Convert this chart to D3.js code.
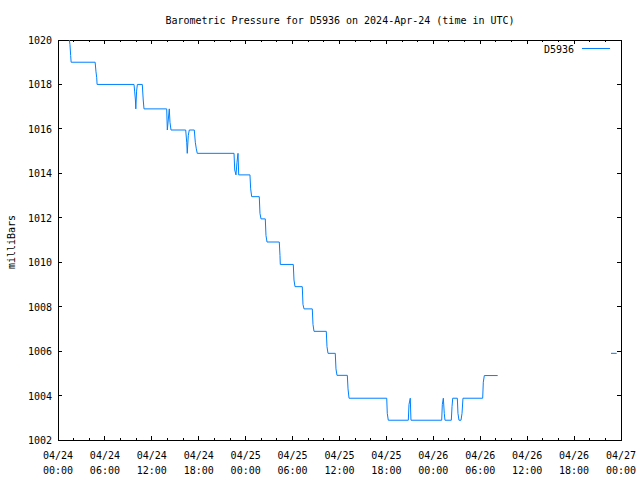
<!DOCTYPE html>
<html>
  <head>
    <meta charset="UTF-8" />
    <script src="https://d3js.org/d3.v7.min.js"></script>
    <style>
      body { margin: 0; background: #fff; }
      text { font-family: "DejaVu Sans Mono", monospace; font-size: 10px; fill: #000; }
    </style>
  </head>
  <body>
    <svg width="640" height="480"></svg>

    <script>
      // hours since 2024-04-24 00:00 UTC, null = gap in the record
      const hours = [
        1.45, 1.53, 1.62, 1.68, 4.75, 4.85, 4.95, 5.0,
        9.72, 9.8, 9.9, 9.95, 10.05, 10.15, 10.78, 10.9, 11.0,
        13.9, 13.98, 14.1, 14.23, 14.32, 14.45,
        16.33, 16.46, 16.53, 16.66, 16.79, 17.43, 17.56, 17.69, 17.81,
        22.51, 22.6, 22.76, 22.89, 23.02, 23.11,
        24.55, 24.64, 24.77, 25.74, 25.83, 25.96, 26.51, 26.6, 26.73,
        28.3, 28.39, 28.43, 30.09, 30.18, 30.31, 31.24, 31.33, 31.46,
        32.52, 32.61, 32.74, 34.31, 34.4, 34.53, 35.46, 35.55, 35.68,
        37.0, 37.09, 37.22, 42.04, 42.11, 42.24,
        44.8, 44.89, 45.05, 45.14,
        49.07, 49.15, 49.28, 49.4, 49.49, 50.3, 50.39, 50.48,
        51.07, 51.15, 51.28, 51.54, 51.67, 51.79,
        54.31, 54.39, 54.52, 56.23,
        null,
        70.72, 71.45
      ];
      const pressure = [
        1020.0, 1019.8, 1019.3, 1019.0, 1019.0, 1018.6, 1018.3, 1018.0,
        1018.0, 1017.7, 1017.3, 1016.9, 1017.7, 1018.0, 1018.0, 1017.3, 1016.9,
        1016.9, 1015.95, 1016.4, 1016.9, 1016.3, 1015.95,
        1015.95, 1015.4, 1014.9, 1015.7, 1015.95, 1015.95, 1015.4, 1015.1, 1014.9,
        1014.9, 1014.15, 1013.93, 1014.5, 1014.9, 1013.93,
        1013.93, 1013.3, 1012.95, 1012.95, 1012.2, 1011.95, 1011.95, 1011.2, 1010.91,
        1010.91, 1010.3, 1009.9, 1009.9, 1009.2, 1008.9, 1008.9, 1008.1, 1007.9,
        1007.9, 1007.2, 1006.89, 1006.89, 1006.2, 1005.9, 1005.9, 1005.2, 1004.91,
        1004.91, 1004.3, 1003.88, 1003.88, 1003.2, 1002.89,
        1002.89, 1003.6, 1003.88, 1002.89,
        1002.89, 1003.6, 1003.88, 1003.2, 1002.89, 1002.89, 1003.5, 1003.88,
        1003.88, 1003.2, 1002.89, 1002.89, 1003.2, 1003.88,
        1003.88, 1004.6, 1004.9, 1004.9,
        null,
        1005.9, 1005.9
      ];
      const yTicks = [1002, 1004, 1006, 1008, 1010, 1012, 1014, 1016, 1018, 1020];
      const title = "Barometric Pressure for D5936 on 2024-Apr-24 (time in UTC)";
      const station = "D5936";

      const t0 = Date.UTC(2024, 3, 24);
      const data = hours.map((h, i) => ({
        t: h == null ? null : new Date(t0 + h * 3600e3),
        v: pressure[i]
      }));

      const svg = d3.select("svg");
      const pLeft = 58, pRight = 621, pTop = 40, pBottom = 440;

      const x = d3.scaleUtc()
        .domain([new Date(t0), new Date(t0 + 72 * 3600e3)])
        .range([pLeft, pRight]);
      const y = d3.scaleLinear().domain([1002, 1020]).range([pBottom, pTop]);

      const end = new Date(+x.domain()[1] + 1);
      const majors = d3.utcHour.every(6).range(x.domain()[0], end);
      const minors = d3.utcHour.every(2).range(x.domain()[0], end);

      const fmtDay = d3.utcFormat("%m/%d"), fmtTime = d3.utcFormat("%H:%M");

      // ticks, inward, mirrored on all four sides
      const ticks = svg.append("g").attr("stroke", "#000").attr("shape-rendering", "crispEdges");
      minors.forEach(d => {
        const len = d.getUTCHours() % 6 == 0 ? 4 : 2;
        ticks.append("line").attr("x1", x(d)).attr("x2", x(d)).attr("y1", pBottom).attr("y2", pBottom - len);
        ticks.append("line").attr("x1", x(d)).attr("x2", x(d)).attr("y1", pTop).attr("y2", pTop + len);
      });
      yTicks.forEach(v => {
        ticks.append("line").attr("x1", pLeft).attr("x2", pLeft + 4).attr("y1", y(v)).attr("y2", y(v));
        ticks.append("line").attr("x1", pRight).attr("x2", pRight - 4).attr("y1", y(v)).attr("y2", y(v));
      });

      svg.append("g").selectAll("text").data(yTicks).join("text")
        .attr("x", pLeft - 6).attr("y", d => y(d) + 4)
        .attr("text-anchor", "end")
        .text(d => d);

      const xl = svg.append("g").selectAll("text").data(majors).join("text")
        .attr("text-anchor", "middle");
      xl.append("tspan").attr("x", d => x(d)).attr("y", 459).text(d => fmtDay(d));
      xl.append("tspan").attr("x", d => x(d)).attr("y", 474).text(d => fmtTime(d));

      // border
      svg.append("rect")
        .attr("x", pLeft).attr("y", pTop)
        .attr("width", pRight - pLeft).attr("height", pBottom - pTop)
        .attr("fill", "none").attr("stroke", "#000").attr("shape-rendering", "crispEdges");

      svg.append("text").attr("x", 340).attr("y", 24).attr("text-anchor", "middle").text(title);

      svg.append("text")
        .attr("transform", "translate(15,242) rotate(-90)")
        .attr("text-anchor", "middle")
        .text("milliBars");

      // series
      svg.append("defs").append("clipPath").attr("id", "clip")
        .append("rect").attr("x", pLeft).attr("y", pTop).attr("width", pRight - pLeft).attr("height", pBottom - pTop);

      const line = d3.line()
        .defined(d => d.t != null)
        .x(d => x(d.t))
        .y(d => y(d.v));

      svg.append("path")
        .datum(data)
        .attr("clip-path", "url(#clip)")
        .attr("fill", "none")
        .attr("stroke", "#0080ff")
        .attr("stroke-width", 1)
        .attr("d", line);

      // legend
      svg.append("text").attr("x", 574).attr("y", 53).attr("text-anchor", "end").text(station);
      svg.append("line")
        .attr("x1", 582).attr("x2", 610).attr("y1", 48.5).attr("y2", 48.5)
        .attr("stroke", "#0080ff").attr("stroke-width", 1);
    </script>
  </body>
</html>
